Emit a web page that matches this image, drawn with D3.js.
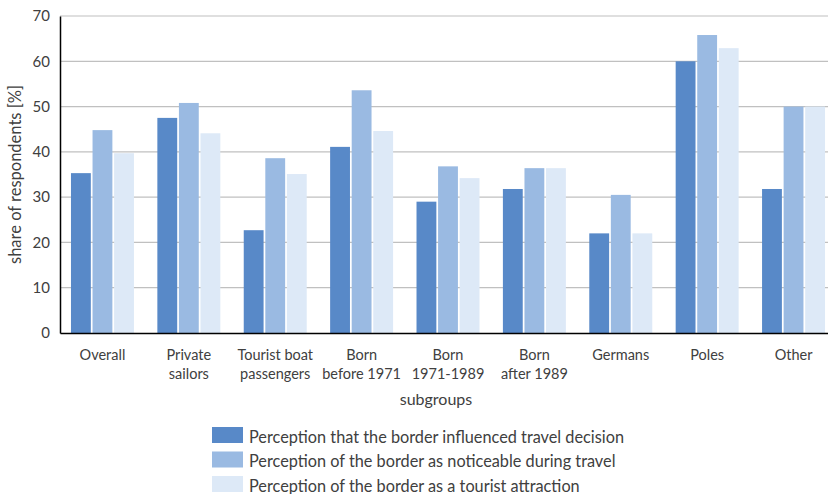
<!DOCTYPE html>
<html>
<head>
<meta charset="utf-8">
<script src="https://cdn.jsdelivr.net/npm/d3@7"></script>
<style>
  body { margin: 0; background: #fff; }
  text { font-family: "Lato", "Open Sans", sans-serif; fill: #404040; }
</style>
</head>
<body>
<div id="chart"></div>
<script>
// categories (two lines each)
var categories = [
  ["Overall"], ["Private", "sailors"], ["Tourist boat", "passengers"],
  ["Born", "before 1971"], ["Born", "1971-1989"], ["Born", "after 1989"],
  ["Germans"], ["Poles"], ["Other"]
];
var seriesNames = [
  "Perception that the border influenced travel decision",
  "Perception of the border as noticeable during travel",
  "Perception of the border as a tourist attraction"
];
var influenced = [35.3, 47.5, 22.7, 41.1, 29.0, 31.8, 22.0, 60.0, 31.8];
var noticeable = [44.8, 50.8, 38.6, 53.6, 36.8, 36.4, 30.5, 65.8, 50.0];
var attraction = [39.7, 44.1, 35.1, 44.6, 34.2, 36.4, 22.0, 62.9, 50.0];
var yTicks = [0, 10, 20, 30, 40, 50, 60, 70];

var colors = ["#5889c8", "#9abae2", "#dde9f7"];
var width = 828, height = 494;
var margin = {top: 16, right: 0, bottom: 161, left: 60};

var svg = d3.select("#chart").append("svg")
  .attr("width", width)
  .attr("height", height);

var keys = categories.map(c => c.join(" "));
var values = [influenced, noticeable, attraction];

// plot area runs a little past the right edge of the picture
var x0 = d3.scaleBand()
  .domain(keys)
  .range([margin.left, 836])
  .paddingInner(0.271)
  .paddingOuter(0.127);

var x1 = d3.scaleBand()
  .domain([0, 1, 2])
  .range([0, x0.bandwidth()])
  .paddingInner(0.08);

var y = d3.scaleLinear()
  .domain([0, 70])
  .range([height - margin.bottom, margin.top]);

// grid
svg.append("g")
  .selectAll("line")
  .data(yTicks.slice(1))
  .join("line")
  .attr("x1", margin.left)
  .attr("x2", width)
  .attr("y1", d => y(d))
  .attr("y2", d => y(d))
  .attr("stroke", "#c0c0c0")
  .attr("stroke-width", 1.2);

// bars
var groups = svg.append("g")
  .selectAll("g")
  .data(keys)
  .join("g")
  .attr("transform", d => "translate(" + x0(d) + ",0)");

groups.selectAll("rect")
  .data((d, i) => values.map((v, s) => ({s: s, v: v[i]})))
  .join("rect")
  .attr("x", d => x1(d.s))
  .attr("y", d => y(d.v))
  .attr("width", x1.bandwidth())
  .attr("height", d => y(0) - y(d.v))
  .attr("fill", d => colors[d.s]);

// y axis
var yAxis = d3.axisLeft(y).tickValues(yTicks).tickSize(0).tickPadding(10);
var yg = svg.append("g")
  .attr("transform", "translate(" + margin.left + ",0)")
  .call(yAxis);
yg.select(".domain").attr("stroke", "#000").attr("stroke-width", 1.5);
yg.selectAll("text").style("font-size", "15px").attr("fill", "#404040");

// x axis
var xAxis = d3.axisBottom(x0).tickSize(0).tickFormat("");
var xg = svg.append("g")
  .attr("transform", "translate(0," + y(0) + ")")
  .call(xAxis);
xg.select(".domain").attr("stroke", "#000").attr("stroke-width", 1.5);

// x labels, two lines
categories.forEach(function(c, i) {
  var cx = x0(keys[i]) + x0.bandwidth() / 2;
  var t = svg.append("text")
    .attr("text-anchor", "middle")
    .attr("x", cx)
    .attr("y", 360)
    .style("font-size", "14.5px");
  c.forEach(function(line, j) {
    t.append("tspan")
      .attr("x", cx)
      .attr("dy", j == 0 ? 0 : 19)
      .text(line);
  });
});

// axis titles
svg.append("text")
  .attr("text-anchor", "middle")
  .attr("x", 436)
  .attr("y", 405)
  .style("font-size", "16px")
  .text("subgroups");

svg.append("text")
  .attr("text-anchor", "middle")
  .attr("transform", "translate(21," + (margin.top + y(0)) / 2 + ") rotate(-90)")
  .style("font-size", "16.5px")
  .text("share of respondents [%]");

// legend
seriesNames.forEach(function(name, i) {
  svg.append("rect")
    .attr("x", 212).attr("y", 427 + i * 24.5)
    .attr("width", 31).attr("height", 16)
    .attr("fill", colors[i]);
  svg.append("text")
    .attr("x", 249).attr("y", 442.5 + i * 24.5)
    .style("font-size", "16.3px")
    .text(name);
});
</script>
</body>
</html>
